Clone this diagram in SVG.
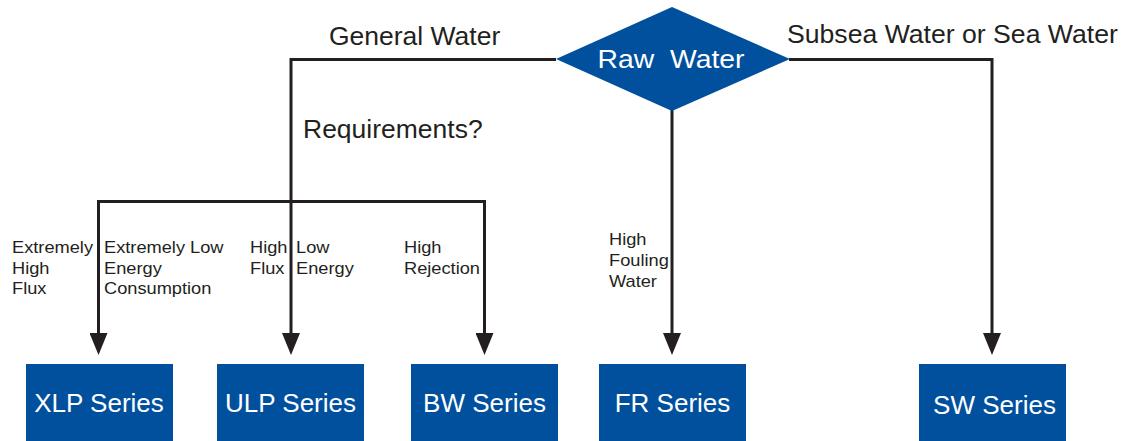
<svg xmlns="http://www.w3.org/2000/svg" width="1126" height="441" viewBox="0 0 1126 441">
<style>
.node{fill:#00509e;}
.nt{font-family:"Liberation Sans",Arial,sans-serif;font-size:26px;fill:#ffffff;text-anchor:middle;}
.lbl{font-family:"Liberation Sans",Arial,sans-serif;font-size:25px;fill:#231f20;}
.sl{font-family:"Liberation Sans",Arial,sans-serif;font-size:16px;fill:#231f20;}
.con{fill:none;stroke:#231f20;stroke-width:3;}
</style>
<defs>
<marker id="arr" viewBox="0 0 22 18" refX="12" refY="9" markerWidth="22" markerHeight="18" orient="auto" markerUnits="userSpaceOnUse">
<path d="M0,0 L22,9 L0,18 z" fill="#231f20"/>
</marker>
</defs>
<g id="connectors">
<path class="con" d="M556,59.5 H291 V345" marker-end="url(#arr)"/>
<path class="con" d="M98.5,345 V201.5 H484.5 V345" marker-end="url(#arr)"/>
<path class="con" d="M98.5,201.5 V345" marker-end="url(#arr)"/>
<path class="con" d="M672,110 V345" marker-end="url(#arr)"/>
<path class="con" d="M789,59.5 H992 V345" marker-end="url(#arr)"/>
</g>
<g id="raw-water">
<polygon class="node" points="556,59 672,7 790,59 672,111"/>
<text class="nt" transform="translate(671,68) scale(1.09,1)" x="0" y="0" xml:space="preserve">Raw  Water</text>
</g>
<g id="xlp">
<rect class="node" x="26" y="364" width="147" height="77"/>
<text class="nt" x="99" y="412">XLP Series</text>
</g>
<g id="ulp">
<rect class="node" x="217" y="364" width="147" height="77"/>
<text class="nt" x="290.5" y="412">ULP Series</text>
</g>
<g id="bw">
<rect class="node" x="411" y="364" width="147" height="77"/>
<text class="nt" x="484.5" y="412">BW Series</text>
</g>
<g id="fr">
<rect class="node" x="599" y="364" width="147" height="77"/>
<text class="nt" x="672.5" y="412">FR Series</text>
</g>
<g id="sw">
<rect class="node" x="919" y="364" width="147" height="77"/>
<text class="nt" x="994.5" y="414">SW Series</text>
</g>
<g id="labels">
<text class="lbl" transform="translate(329,45) scale(1.06,1)">General Water</text>
<text class="lbl" transform="translate(787,43) scale(1.065,1)">Subsea Water or Sea Water</text>
<text class="lbl" transform="translate(303,138) scale(1.06,1)">Requirements?</text>
<text class="sl" transform="translate(12,0) scale(1.14,1)"><tspan x="0" y="253">Extremely</tspan><tspan x="0" y="274">High</tspan><tspan x="0" y="294">Flux</tspan></text>
<text class="sl" transform="translate(104,0) scale(1.14,1)"><tspan x="0" y="253">Extremely Low</tspan><tspan x="0" y="274">Energy</tspan><tspan x="0" y="294">Consumption</tspan></text>
<text class="sl" transform="translate(250,0) scale(1.14,1)"><tspan x="0" y="253">High</tspan><tspan x="0" y="274">Flux</tspan></text>
<text class="sl" transform="translate(296,0) scale(1.14,1)"><tspan x="0" y="253">Low</tspan><tspan x="0" y="274">Energy</tspan></text>
<text class="sl" transform="translate(404,0) scale(1.14,1)"><tspan x="0" y="253">High</tspan><tspan x="0" y="274">Rejection</tspan></text>
<text class="sl" transform="translate(609,0) scale(1.14,1)"><tspan x="0" y="245">High</tspan><tspan x="0" y="266">Fouling</tspan><tspan x="0" y="287">Water</tspan></text>
</g>
</svg>
